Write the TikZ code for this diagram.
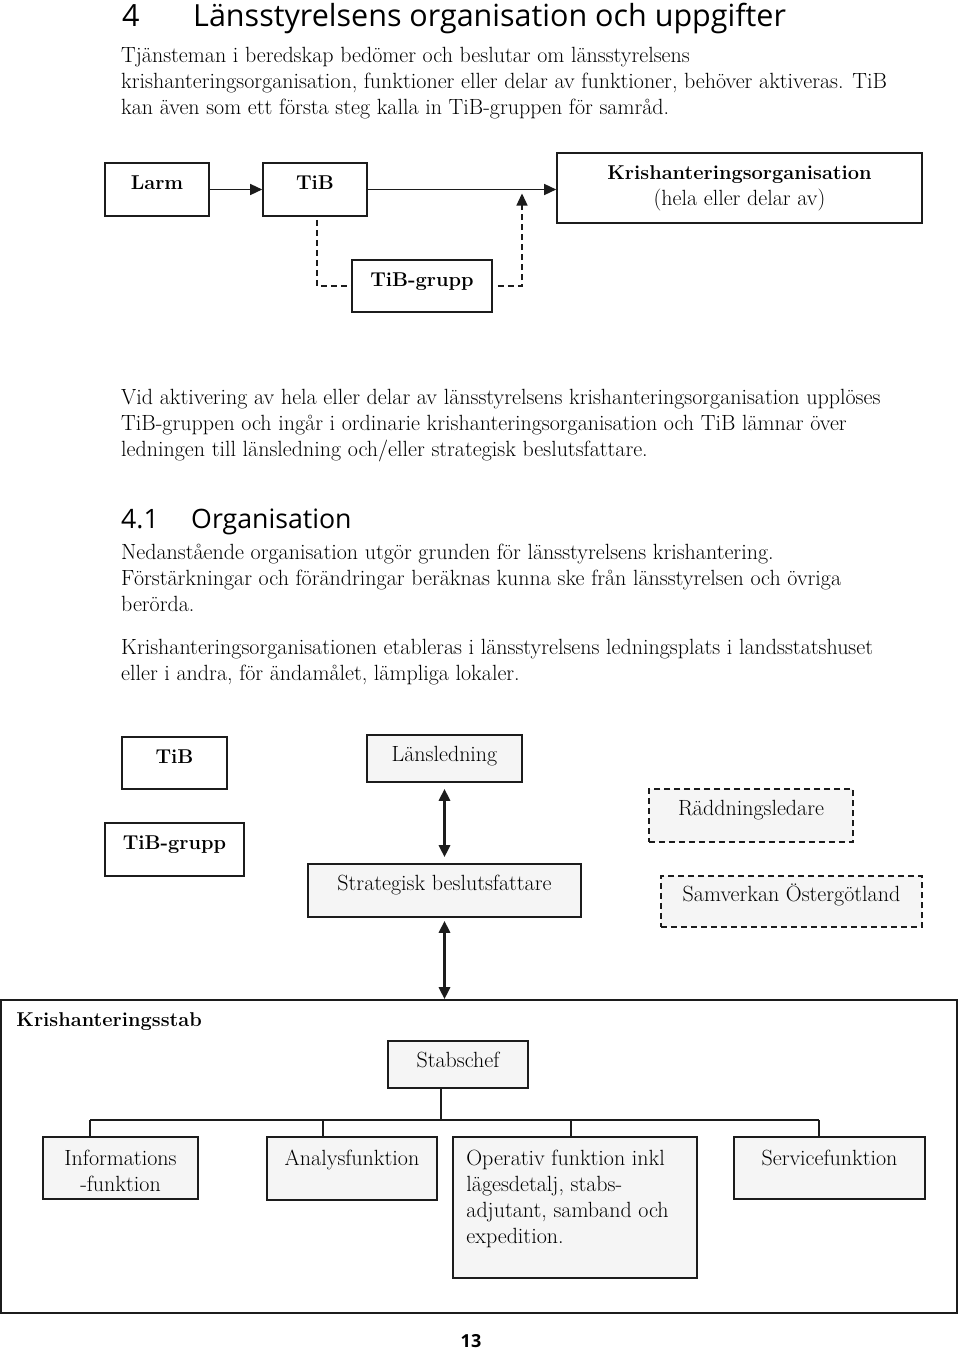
\documentclass[tikz,border=0pt]{standalone}
\usepackage{fontspec}
\newfontfamily\rubrikfont{Open Sans}
\usetikzlibrary{arrows.meta,positioning}
\definecolor{linje}{HTML}{1C1C1C}
\definecolor{ljusgra}{HTML}{F5F5F5}
\newcommand{\brodfont}{\fontsize{22}{26}\selectfont}
\newcommand{\fetfont}{\fontsize{20}{26}\selectfont\bfseries}
\tikzset{
  brodtext/.style={anchor=north west,inner sep=0pt,align=left,font=\brodfont},
  ruta/.style={draw=linje,line width=1.6pt,fill=white,inner sep=0pt,font=\brodfont},
  fet/.style={font=\fetfont},
  enrad/.style={text height=12pt,text depth=12pt},
  gra/.style={fill=ljusgra},
  streckruta/.style={dash pattern=on 6pt off 4pt},
  etikett/.style={inner sep=0pt,align=center,font=\brodfont},
  pil/.style={draw=linje,line width=1.4pt,-{Triangle[length=12pt,width=11pt]}},
  streck/.style={draw=linje,line width=1.3pt,dash pattern=on 6pt off 4pt},
  tjockpil/.style={draw=linje,line width=3pt,{Triangle[length=12pt,width=11pt]}-{Triangle[length=12pt,width=11pt]}},
  linjal/.style={draw=linje,line width=1.6pt},
}
\begin{document}
\begin{tikzpicture}[x=1pt,y=-1pt]
\useasboundingbox (0,0) rectangle (960,1349);
% rubrik och inledning
\node[anchor=base west,inner sep=0pt,font=\rubrikfont\fontsize{30.5}{34}\selectfont] (rubrik) at (122,26) {\makebox[71pt][l]{4}Länsstyrelsens organisation och uppgifter};
\node[brodtext] (inledning) at (121,44.3) {\strut Tjänsteman i beredskap bedömer och beslutar om länsstyrelsens\\
krishanteringsorganisation, funktioner eller delar av funktioner, behöver aktiveras. TiB\\
kan även som ett första steg kalla in TiB-gruppen för samråd.};
% aktivering
\node[ruta,fet,enrad,minimum width=104,minimum height=53] (larm) at (157,189.5) {Larm};
\node[ruta,fet,enrad,minimum width=104,minimum height=53] (tib) at (315,189.5) {TiB};
\node[ruta,minimum width=365,minimum height=70,align=center] (krisorg) at (739.5,188) {{\fetfont Krishanteringsorganisation}\\(hela eller delar av)};
\node[ruta,fet,enrad,minimum width=140,minimum height=52] (tibgrupp) at (422,286) {TiB-grupp};
\coordinate (krok) at (522,189.5);
\draw[pil] (larm) -- (tib);
\draw[pil] (tib.east) -- (tib.east -| krisorg.west);
\draw[streck] ([xshift=2pt,yshift=-3pt]tib.south) |- (tibgrupp.west);
\draw[streck,-{Triangle[length=12pt,width=11pt]},shorten >=4pt] ([xshift=5pt]tibgrupp.east) -| (krok);
% brodtext
\node[brodtext] (upplosning) at (121,386.3) {\strut Vid aktivering av hela eller delar av länsstyrelsens krishanteringsorganisation upplöses\\
TiB-gruppen och ingår i ordinarie krishanteringsorganisation och TiB lämnar över\\
ledningen till länsledning och/eller strategisk beslutsfattare.};
\node[anchor=base west,inner sep=0pt,font=\rubrikfont\fontsize{26.7}{30}\selectfont] (underrubrik) at (121,528) {\makebox[70pt][l]{4.1}Organisation};
\node[brodtext] (grund) at (121,541.3) {\strut Nedanstående organisation utgör grunden för länsstyrelsens krishantering.\\
Förstärkningar och förändringar beräknas kunna ske från länsstyrelsen och övriga\\
berörda.};
\node[brodtext] (plats) at (121,636.3) {\strut Krishanteringsorganisationen etableras i länsstyrelsens ledningsplats i landsstatshuset\\
eller i andra, för ändamålet, lämpliga lokaler.};
% organisation
\node[ruta,fet,enrad,minimum width=105,minimum height=52] (tib2) at (174.5,763) {TiB};
\node[ruta,fet,enrad,minimum width=139,minimum height=53] (tibgrupp2) at (174.5,849.5) {TiB-grupp};
\node[ruta,gra,text height=15pt,text depth=9pt,minimum width=155,minimum height=47] (lansledning) at (444.5,758.5) {Länsledning};
\node[ruta,gra,enrad,minimum width=273,minimum height=53] (strategisk) at (444.5,890.5) {Strategisk beslutsfattare};
\node[ruta,gra,enrad,streckruta,minimum width=204,minimum height=53] (raddning) at (751,815.5) {Räddningsledare};
\node[ruta,gra,enrad,streckruta,minimum width=261,minimum height=51] (samverkan) at (791.5,901.5) {Samverkan Östergötland};
\node[ruta,minimum width=956,minimum height=313] (stab) at (479,1156.5) {};
\node[anchor=base west,inner sep=0pt,font=\fetfont] (stabnamn) at ([xshift=16pt,yshift=-27pt]stab.north west) {Krishanteringsstab};
\draw[tjockpil,shorten <=6pt,shorten >=6pt] (lansledning.south) -- (strategisk.north);
\draw[tjockpil,shorten <=3pt] (strategisk.south) -- (strategisk.south |- stab.north);
% krishanteringsstab
\node[ruta,gra,text height=15pt,text depth=9pt,minimum width=140,minimum height=47] (stabschef) at (458,1064.5) {Stabschef};
\node[ruta,gra,minimum width=155,minimum height=62] (info) at (120.5,1168) {};
\node[ruta,gra,minimum width=170,minimum height=63] (analys) at (352,1168.5) {};
\node[ruta,gra,minimum width=244,minimum height=141] (operativ) at (575,1207.5) {};
\node[ruta,gra,minimum width=191,minimum height=62] (service) at (829.5,1168) {};
\node[etikett,below=11pt of info.north] (infotext) {\strut Informations\\-funktion};
\node[etikett,below=11pt of analys.north] (analystext) {\strut Analysfunktion};
\node[etikett,align=left,anchor=north west] (operativtext) at ([xshift=14pt,yshift=-11pt]operativ.north west) {\strut Operativ funktion inkl\\lägesdetalj, stabs-\\adjutant, samband och\\expedition.};
\node[etikett,below=11pt of service.north] (servicetext) {\strut Servicefunktion};
\coordinate (buss) at (441,1120);
\coordinate (bussI) at (90,1120);
\coordinate (bussA) at (323,1120);
\coordinate (bussO) at (571,1120);
\coordinate (bussS) at (819,1120);
\draw[linjal] (buss |- stabschef.south) -- (buss);
\draw[linjal] (bussI) -- (bussS);
\foreach \b/\r in {bussI/info,bussA/analys,bussO/operativ,bussS/service}
  \draw[linjal] (\b) -- (\b |- \r.north);
% sidnummer
\node[anchor=base,inner sep=0pt,font=\rubrikfont\bfseries\fontsize{18}{20}\selectfont] (sida) at (471,1347) {13};
\end{tikzpicture}
\end{document}
